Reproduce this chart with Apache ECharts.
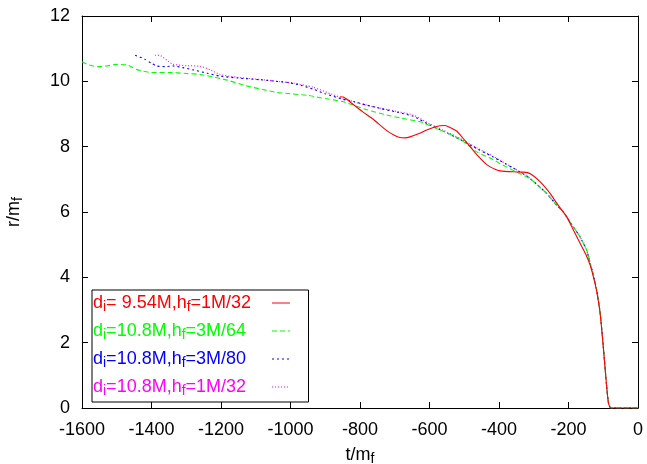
<!DOCTYPE html>
<html><head><meta charset="utf-8">
<script src="https://cdn.jsdelivr.net/npm/echarts/dist/echarts.min.js"></script>
<style>html,body{margin:0;padding:0;background:#fff}#c{width:647px;height:464px}</style>
</head><body><div id="c"></div>
<script>
// ---- data (t/m_f, r/m_f) ----
const redT = [-858,-848,-838,-824,-790,-762,-724,-700,-685,-670,-656,-630,-608,-585,-570,-555,-541,-522,-503,-483,-464,-435,-410,-397,-359,-330,-311,-282,-253,-234,-205,-186,-167,-150,-138,-128,-119,-109,-100,-92,-85,-78,-40,0];
const redR = [9.53,9.52,9.45,9.33,9.05,8.84,8.5,8.34,8.28,8.27,8.3,8.4,8.51,8.6,8.64,8.65,8.59,8.48,8.25,8.0,7.76,7.45,7.3,7.26,7.23,7.22,7.18,6.93,6.57,6.27,5.85,5.45,5.05,4.7,4.38,4.0,3.58,2.9,1.88,0.88,0.15,0,0,0];

const greenT = [-1600,-1580,-1555,-1530,-1500,-1470,-1440,-1400,-1350,-1300,-1260,-1220,-1180,-1130,-1080,-1040,-1000,-950,-915,-850,-819,-780,-723,-680,-627,-590,-530,-500,-464,-416,-397,-351,-311,-263,-234,-215,-196,-167,-148,-138,-128,-119,-109,-100,-92,-85,-78,-40,0];
const greenR = [10.6,10.5,10.45,10.47,10.52,10.5,10.35,10.27,10.27,10.24,10.21,10.13,10.03,9.87,9.75,9.66,9.62,9.57,9.5,9.38,9.27,9.13,8.97,8.87,8.76,8.6,8.33,8.14,7.84,7.6,7.48,7.23,7.02,6.57,6.21,6.0,5.7,5.24,4.84,4.45,4.05,3.62,2.92,1.9,0.88,0.15,0,0,0];

const blueT = [-1447,-1420,-1400,-1385,-1360,-1338,-1310,-1280,-1240,-1203,-1150,-1088,-1040,-1011,-970,-935,-900,-849,-819,-780,-742,-690,-647,-600,-560,-512,-460,-416,-397,-340,-311,-263,-234,-215,-196,-167,-148,-138,-128,-119,-109,-100,-92,-85,-78,-40,0];
const blueR = [10.8,10.68,10.55,10.47,10.45,10.47,10.42,10.35,10.25,10.16,10.1,10.05,10.0,9.97,9.88,9.76,9.62,9.45,9.38,9.27,9.17,9.05,8.93,8.67,8.47,8.22,7.92,7.68,7.57,7.23,7.03,6.57,6.21,6.0,5.7,5.24,4.84,4.45,4.05,3.62,2.92,1.9,0.88,0.15,0,0,0];

const magentaT = [-1390,-1375,-1350,-1338,-1300,-1260,-1230,-1203,-1150,-1088,-1030,-993,-935,-880,-849,-800,-742,-690,-647,-600,-560,-512,-460,-416,-397,-340,-311,-263,-234,-215,-196,-167,-148,-138,-128,-119,-109,-100,-92,-85,-78,-40,0];
const magentaR = [10.8,10.79,10.6,10.52,10.48,10.46,10.35,10.21,10.12,10.06,9.99,9.95,9.82,9.6,9.48,9.32,9.18,9.07,8.97,8.7,8.5,8.25,7.94,7.7,7.58,7.23,7.03,6.57,6.21,6.0,5.7,5.24,4.84,4.45,4.05,3.62,2.92,1.9,0.88,0.15,0,0,0];

const xTicks = [-1600,-1400,-1200,-1000,-800,-600,-400,-200,0];
const yTicks = [0,2,4,6,8,10,12];

// legend labels: [main, subscript, main, subscript, main]
const legendLabels = [
  ['d','i','= 9.54M,h','f','=1M/32'],
  ['d','i','=10.8M,h','f','=3M/64'],
  ['d','i','=10.8M,h','f','=3M/80'],
  ['d','i','=10.8M,h','f','=1M/32']
];
const seriesColors = ['#ff0000','#00ff00','#0000ff','#ff00ff'];
const seriesNames = ['s0','s1','s2','s3'];

const FONT = 'Liberation Sans, Arial, Helvetica, sans-serif';
function pairs(t, r){ return t.map((v,i)=>[v, r[i]]); }

const rich = {
  n: {fontSize:18, lineHeight:18, verticalAlign:'top', fontFamily:FONT, color:'#000', align:'left'},
  s: {fontSize:14, lineHeight:14, padding:[6,0,0,0], verticalAlign:'top', fontFamily:FONT, color:'#000', align:'left'}
};
seriesColors.forEach((c,i)=>{
  rich['n'+i] = {fontSize:18, lineHeight:18, verticalAlign:'top', fontFamily:FONT, color:c, align:'left'};
  rich['s'+i] = {fontSize:14, lineHeight:14, padding:[6,0,0,0], verticalAlign:'top', fontFamily:FONT, color:c, align:'left'};
});

const dashTypes = ['solid',[5,3],[2,3],[1,2]];
const seriesData = [pairs(redT,redR), pairs(greenT,greenR), pairs(blueT,blueR), pairs(magentaT,magentaR)];

const chart = echarts.init(document.getElementById('c'), null, {renderer:'canvas'});
const axisCommon = {
  type:'value',
  axisLine:{show:true, onZero:false, lineStyle:{color:'#000', width:1}},
  axisTick:{show:true, inside:true, length:6, lineStyle:{color:'#000', width:1}},
  splitLine:{show:false},
  nameMoveOverlap:false
};
chart.setOption({
  animation:false,
  backgroundColor:'#fff',
  grid:{left:82, right:9, top:16, bottom:56, containLabel:false, outerBoundsMode:'none'},
  xAxis:[
    Object.assign({}, axisCommon, {
      position:'bottom', min:xTicks[0], max:xTicks[xTicks.length-1], interval:200,
      axisLabel:{show:true, color:'#000', fontSize:18, fontFamily:FONT, margin:13, showMinLabel:true, showMaxLabel:true, hideOverlap:false,
        formatter:function(v){ return String(v); }},
      name:'{n|t/m}{s|f}', nameLocation:'middle', nameGap:38,
      nameTextStyle:{rich:rich}
    }),
    Object.assign({}, axisCommon, {
      position:'top', min:xTicks[0], max:xTicks[xTicks.length-1], interval:200,
      axisLabel:{show:false}
    })
  ],
  yAxis:[
    Object.assign({}, axisCommon, {
      position:'left', min:yTicks[0], max:yTicks[yTicks.length-1], interval:2,
      axisLabel:{show:true, color:'#000', fontSize:18, fontFamily:FONT, margin:12, showMinLabel:true, showMaxLabel:true, hideOverlap:false,
        formatter:function(v){ return String(v); }},
      name:'{n|r/m}{s|f}', nameLocation:'middle', nameGap:59, nameRotate:90,
      nameTextStyle:{rich:rich}
    }),
    Object.assign({}, axisCommon, {
      position:'right', min:yTicks[0], max:yTicks[yTicks.length-1], interval:2,
      axisLabel:{show:false}
    })
  ],
  legend:{
    show:true, orient:'vertical', left:92, top:290, align:'right',
    itemWidth:18, itemHeight:20, itemGap:8, padding:[4,18,4,1],
    borderColor:'#000', borderWidth:1, borderRadius:0, backgroundColor:'#fff',
    selectedMode:false, data:seriesNames,
    itemStyle:{color:'rgba(0,0,0,0)', borderColor:'rgba(0,0,0,0)', borderWidth:0},
    lineStyle:{width:1},
    formatter:function(name){
      const i = seriesNames.indexOf(name);
      return legendLabels[i].map((p,k)=> '{' + (k%2===0?'n':'s') + i + '|' + p + '}').join('');
    },
    textStyle:{width:174, rich:rich}
  },
  series: seriesNames.map((nm,i)=>({
    name:nm, type:'line', xAxisIndex:0, yAxisIndex:0,
    data:seriesData[i], symbol:'none', showSymbol:false, smooth:0.2,
    clip:true,
    lineStyle:{color:seriesColors[i], width:1.1, type:dashTypes[i]},
    itemStyle:{color:seriesColors[i]},
    z: 4-i
  }))
});
</script>
</body></html>
